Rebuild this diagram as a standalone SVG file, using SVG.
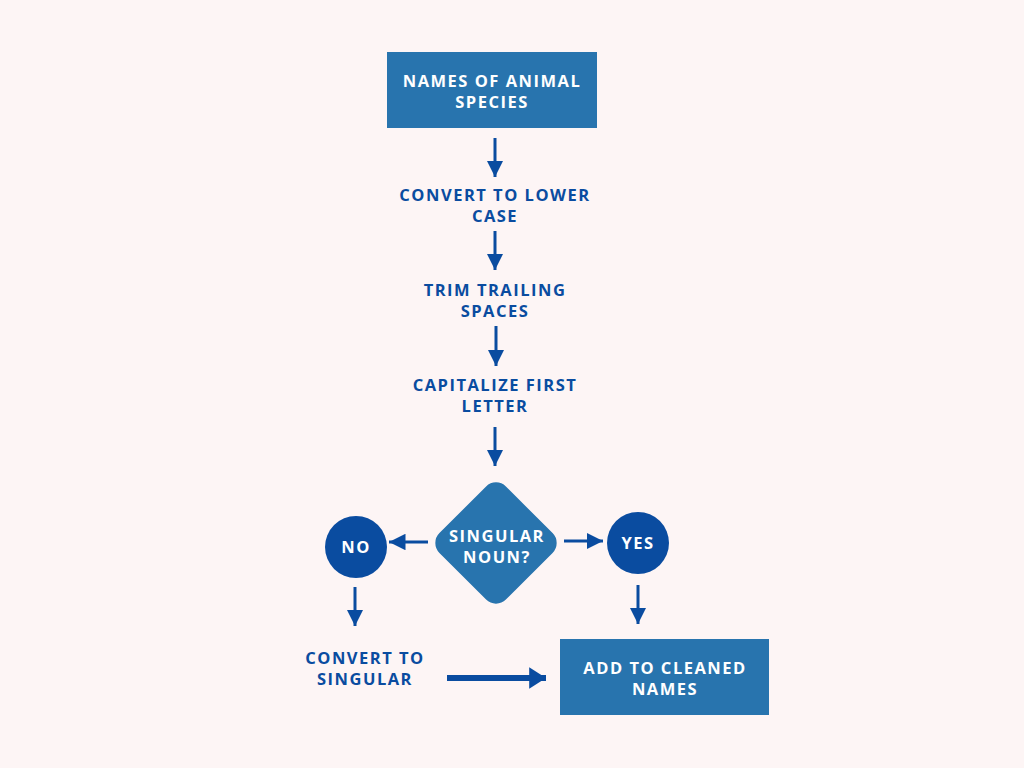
<svg xmlns="http://www.w3.org/2000/svg" width="1024" height="768" viewBox="0 0 1024 768">
<style>
.t{font-family:"Open Sans","DejaVu Sans",sans-serif;font-weight:700;font-size:16.5px;text-anchor:middle;letter-spacing:1.5px}
.d{fill:#0a4ca0}
.w{fill:#ffffff}
.box{fill:#2874ae}
.ln{stroke:#0a4ca0;stroke-width:3;fill:none}
</style>
<defs>
<marker id="ah" viewBox="0 0 10 10" refX="10" refY="5" markerWidth="5.5" markerHeight="5.5" markerUnits="strokeWidth" orient="auto">
<path d="M0,0 L10,5 L0,10 Z" fill="#0a4ca0"/>
</marker>
<marker id="ah2" viewBox="0 0 10 10" refX="10" refY="5" markerWidth="2.8" markerHeight="3.6" markerUnits="strokeWidth" orient="auto" preserveAspectRatio="none">
<path d="M0,0 L10,5 L0,10 Z" fill="#0a4ca0"/>
</marker>
</defs>
<rect width="1024" height="768" fill="#fdf5f5"/>
<g id="connectors">
<line class="ln" x1="495" y1="138" x2="495" y2="177" marker-end="url(#ah)"/>
<line class="ln" x1="495" y1="231" x2="495" y2="270" marker-end="url(#ah)"/>
<line class="ln" x1="496" y1="326" x2="496" y2="366" marker-end="url(#ah)"/>
<line class="ln" x1="495" y1="427" x2="495" y2="466" marker-end="url(#ah)"/>
<line class="ln" x1="428" y1="542" x2="389" y2="542" marker-end="url(#ah)"/>
<line class="ln" x1="564" y1="541" x2="603" y2="541" marker-end="url(#ah)"/>
<line class="ln" x1="355" y1="587" x2="355" y2="626" marker-end="url(#ah)"/>
<line class="ln" x1="638" y1="585" x2="638" y2="624" marker-end="url(#ah)"/>
<line x1="447" y1="678" x2="546" y2="678" stroke="#0a4ca0" stroke-width="6" marker-end="url(#ah2)"/>
</g>
<g id="n1">
<rect class="box" x="387" y="52" width="210" height="76"/>
<text class="t w" x="492" y="87">NAMES OF ANIMAL</text>
<text class="t w" x="492" y="108">SPECIES</text>
</g>
<g id="n2">
<text class="t d" x="495" y="201">CONVERT TO LOWER</text>
<text class="t d" x="495" y="222">CASE</text>
</g>
<g id="n3">
<text class="t d" x="495" y="296">TRIM TRAILING</text>
<text class="t d" x="495" y="317">SPACES</text>
</g>
<g id="n4">
<text class="t d" x="495" y="391">CAPITALIZE FIRST</text>
<text class="t d" x="495" y="412">LETTER</text>
</g>
<g id="n5">
<rect class="box" x="449" y="496" width="94" height="94" rx="14" transform="rotate(45 496 543)"/>
<text class="t w" x="497" y="542">SINGULAR</text>
<text class="t w" x="497" y="563">NOUN?</text>
</g>
<g id="n6">
<circle class="d" cx="356" cy="547" r="31"/>
<text class="t w" x="356" y="553">NO</text>
</g>
<g id="n7">
<circle class="d" cx="638" cy="543" r="31"/>
<text class="t w" x="638" y="549">YES</text>
</g>
<g id="n8">
<text class="t d" x="365" y="664">CONVERT TO</text>
<text class="t d" x="365" y="685">SINGULAR</text>
</g>
<g id="n9">
<rect class="box" x="560" y="639" width="209" height="76"/>
<text class="t w" x="665" y="674">ADD TO CLEANED</text>
<text class="t w" x="665" y="695">NAMES</text>
</g>
</svg>
